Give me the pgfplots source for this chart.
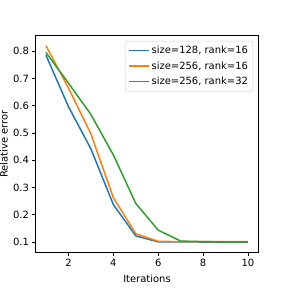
\documentclass[border=0pt]{standalone}
\usepackage{pgfplots}
\pgfplotsset{compat=1.18}
\usepackage{fontspec}
\setmainfont{DejaVu Sans}
\definecolor{tabblue}{HTML}{1F77B4}
\definecolor{taborange}{HTML}{FF7F0E}
\definecolor{tabgreen}{HTML}{2CA02C}
\begin{document}
\fontsize{10bp}{12bp}\selectfont
\begin{tikzpicture}
\useasboundingbox (-36bp,-36bp) rectangle (252bp,253bp);
\begin{axis}[
  scale only axis,
  width=223bp, height=217bp,
  xmin=0.55, xmax=10.45,
  ymin=0.0635, ymax=0.856,
  xtick={2,4,6,8,10},
  ytick={0.1,0.2,0.3,0.4,0.5,0.6,0.7,0.8},
  yticklabel style={/pgf/number format/.cd,fixed,precision=1,fixed zerofill},
  /pgf/number format/assume math mode=true,
  tick align=outside,
  tick pos=left,
  major tick length=3.5bp,
  every tick/.style={black, line width=0.8bp},
  axis line style={line width=0.8bp},
  tick label style={font=\fontsize{10bp}{12bp}\selectfont},
  label style={font=\fontsize{10bp}{12bp}\selectfont},
  xlabel={Iterations},
  ylabel={Relative error},
  xlabel style={yshift=-1bp},
  ylabel style={yshift=-1.5bp},
  legend style={at={(1,1)}, xshift=-5bp, yshift=-5bp, anchor=north east, draw=black!20, rounded corners=2bp,
    font=\fontsize{10bp}{12bp}\selectfont, row sep=2.5bp, inner xsep=3bp, inner ysep=3bp},
  legend cell align=left,
  legend image code/.code={\draw[#1, line width=1.5bp] (0bp,0bp) -- (20bp,0bp);},
]
\addplot[tabblue, line width=1.5bp] coordinates {
(1,0.785) (2,0.597) (3,0.442) (4,0.238) (5,0.123) (6,0.101) (7,0.101) (8,0.1005) (9,0.1005) (10,0.1005)};
\addlegendentry{size=128, rank=16}
\addplot[taborange, line width=1.5bp] coordinates {
(1,0.82) (2,0.665) (3,0.497) (4,0.263) (5,0.131) (6,0.103) (7,0.102) (8,0.102) (9,0.102) (10,0.102)};
\addlegendentry{size=256, rank=16}
\addplot[tabgreen, line width=1.5bp] coordinates {
(1,0.795) (2,0.683) (3,0.568) (4,0.42) (5,0.242) (6,0.144) (7,0.104) (8,0.102) (9,0.101) (10,0.101)};
\addlegendentry{size=256, rank=32}
\end{axis}
\end{tikzpicture}
\end{document}
